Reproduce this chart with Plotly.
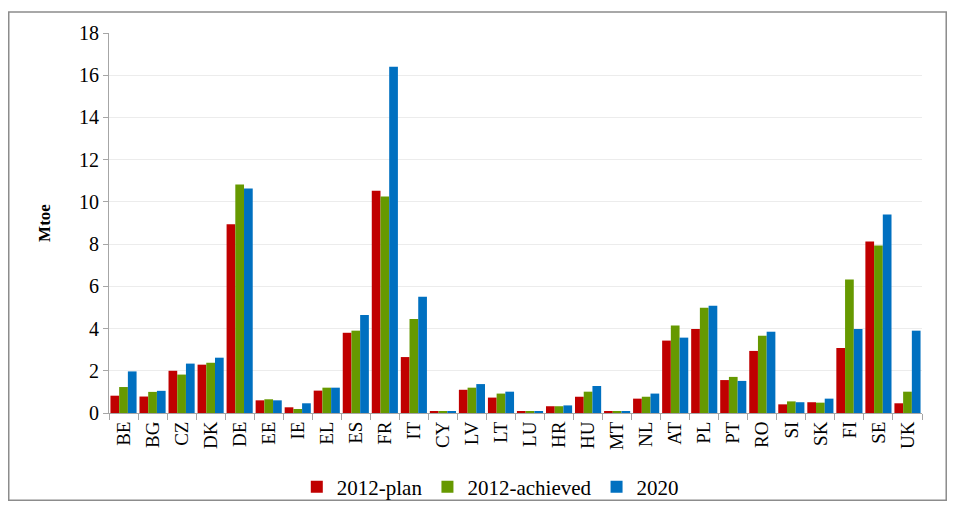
import plotly.graph_objects as go

# data (Mtoe)
countries = ['BE', 'BG', 'CZ', 'DK', 'DE', 'EE', 'IE', 'EL', 'ES', 'FR', 'IT',
             'CY', 'LV', 'LT', 'LU', 'HR', 'HU', 'MT', 'NL', 'AT', 'PL', 'PT',
             'RO', 'SI', 'SK', 'FI', 'SE', 'UK']
plan_2012 = [0.82, 0.78, 2.00, 2.29, 8.94, 0.60, 0.27, 1.06, 3.80, 10.53, 2.65,
             0.05, 1.10, 0.73, 0.05, 0.32, 0.77, 0.05, 0.68, 3.43, 3.98, 1.56,
             2.94, 0.41, 0.51, 3.08, 8.12, 0.46]
achieved_2012 = [1.23, 1.00, 1.82, 2.38, 10.82, 0.65, 0.19, 1.20, 3.90, 10.26, 4.45,
                 0.05, 1.20, 0.92, 0.05, 0.32, 1.01, 0.05, 0.77, 4.14, 4.99, 1.71,
                 3.66, 0.55, 0.49, 6.32, 7.93, 1.01]
target_2020 = [1.97, 1.05, 2.34, 2.62, 10.63, 0.60, 0.46, 1.20, 4.64, 16.40, 5.51,
               0.05, 1.37, 1.01, 0.09, 0.36, 1.28, 0.05, 0.92, 3.57, 5.08, 1.52,
               3.85, 0.51, 0.68, 3.98, 9.40, 3.90]
y_ticks = [0, 2, 4, 6, 8, 10, 12, 14, 16, 18]

series = [('2012-plan', plan_2012, '#C00000'),
          ('2012-achieved', achieved_2012, '#669900'),
          ('2020', target_2020, '#0070C0')]

font_family = 'Liberation Serif, Times New Roman, serif'

fig = go.Figure()

for name, values, color in series:
    fig.add_trace(go.Bar(x=countries,
                         y=values,
                         name=name,
                         marker=dict(color=color, line=dict(width=0))))

# the page body keeps an 8px margin on every side, so the figure is
# 16px smaller than the window to avoid scrolling
fig.update_layout(width=939,
                  height=493,
                  margin=dict(l=101, r=25, t=25, b=88, autoexpand=False),
                  barmode='group',
                  bargap=0.1,
                  bargroupgap=0,
                  plot_bgcolor='white',
                  paper_bgcolor='white',
                  font=dict(family=font_family, size=19, color='black'),
                  legend=dict(orientation='h',
                              x=0.469,
                              xanchor='center',
                              y=-0.195,
                              yanchor='middle',
                              font=dict(size=21),
                              itemwidth=30,
                              bgcolor='rgba(0,0,0,0)',
                              traceorder='normal'),
                  shapes=[dict(type='rect',
                               xref='paper', yref='paper',
                               x0=-0.1233, x1=1.0298,
                               y0=-0.2296, y1=1.0553,
                               line=dict(color='#8c8c8c', width=1.5))])

fig.update_xaxes(showline=True,
                 linecolor='#a6a6a6',
                 ticks='outside',
                 tickson='boundaries',
                 ticklen=6,
                 tickcolor='#a6a6a6',
                 tickangle=-90,
                 tickfont=dict(size=19),
                 showgrid=False,
                 automargin=False)

fig.update_yaxes(range=[0, 18],
                 tickvals=y_ticks,
                 showline=True,
                 linecolor='#a6a6a6',
                 ticks='outside',
                 ticklen=5,
                 tickcolor='#a6a6a6',
                 gridcolor='#ececec',
                 zeroline=False,
                 tickfont=dict(size=20),
                 automargin=False,
                 title=dict(text='<b>Mtoe</b>', font=dict(size=17), standoff=24))

fig.write_html('out.html')
